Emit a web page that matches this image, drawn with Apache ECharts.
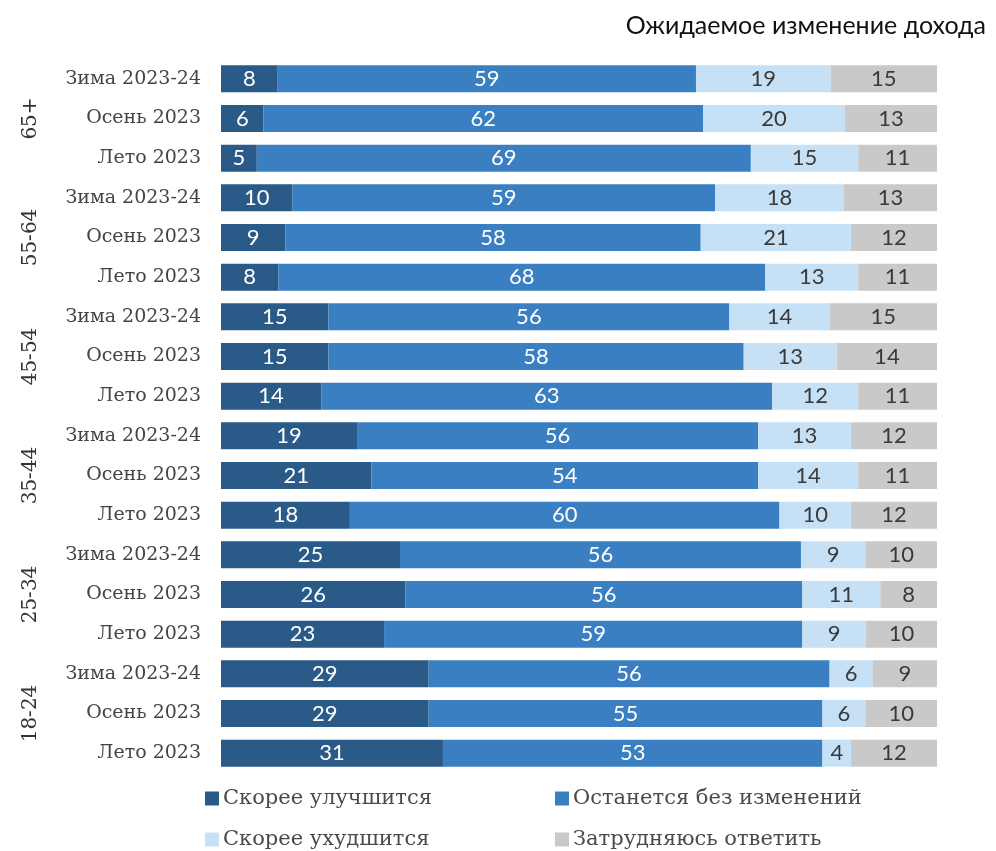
<!DOCTYPE html>
<html>
<head>
<meta charset="utf-8">
<script src="https://cdn.jsdelivr.net/npm/echarts@6/dist/echarts.min.js"></script>
<style>
  html, body { margin: 0; padding: 0; background: #fff; }
  #chart { width: 996px; height: 851px; }
</style>
</head>
<body>
<div id="chart"></div>
<script>
// Age groups, each with three survey waves (top to bottom)
const groups = ['65+', '55-64', '45-54', '35-44', '25-34', '18-24'];
const waves = ['Зима 2023-24', 'Осень 2023', 'Лето 2023'];

const seriesNames = ['Скорее улучшится', 'Останется без изменений', 'Скорее ухудшится', 'Затрудняюсь ответить'];

// Shares of respondents, %, one value per row (group x wave)
const improve = [8, 6, 5, 10, 9, 8, 15, 15, 14, 19, 21, 18, 25, 26, 23, 29, 29, 31];
const same    = [59, 62, 69, 59, 58, 68, 56, 58, 63, 56, 54, 60, 56, 56, 59, 56, 55, 53];
const worse   = [19, 20, 15, 18, 21, 13, 14, 13, 12, 13, 14, 10, 9, 11, 9, 6, 6, 4];
const unsure  = [15, 13, 11, 13, 12, 11, 15, 14, 11, 12, 11, 12, 10, 8, 10, 9, 10, 12];

const colors = ['#2a5a87', '#3a7fc1', '#c6e0f5', '#c9c9c9'];
const labelColors = ['#ffffff', '#ffffff', '#3a3a3a', '#3a3a3a'];

// Row keys are unique; the displayed label is the wave name only
const rows = [];
groups.forEach(g => waves.forEach(w => rows.push(g + '|' + w)));

const values = [improve, same, worse, unsure];
// Each row is drawn as a 100% bar, labels keep the reported values
const totals = rows.map((_, i) => values.reduce((s, arr) => s + arr[i], 0));

const sansFont = 'Lato, "Noto Sans", sans-serif';
const serifFont = '"DejaVu Serif", serif';

const series = values.map((arr, k) => ({
  name: seriesNames[k],
  type: 'bar',
  stack: 'total',
  barWidth: 27,
  itemStyle: { color: colors[k] },
  label: {
    show: true,
    position: 'inside',
    color: labelColors[k],
    fontFamily: sansFont,
    fontSize: 22,
    formatter: p => String(arr[p.dataIndex])
  },
  emphasis: { disabled: true },
  data: arr.map((v, i) => v / totals[i] * 100)
}));

const legendPos = [[205, 788], [555, 788], [205, 829], [555, 829]];
const legends = seriesNames.map((n, k) => ({
  data: [n],
  left: legendPos[k][0],
  top: legendPos[k][1],
  icon: 'rect',
  itemWidth: 14,
  itemHeight: 14,
  itemGap: 0,
  padding: 0,
  selectedMode: false,
  textStyle: { fontFamily: serifFont, fontSize: 21, color: '#4a4a4a', padding: [0, 0, 0, -1] }
}));

const chart = echarts.init(document.getElementById('chart'), null, { renderer: 'canvas' });
chart.setOption({
  animation: false,
  color: colors,
  title: {
    text: 'Ожидаемое изменение дохода',
    right: 5,
    top: 8,
    textStyle: { fontFamily: sansFont, fontSize: 25, fontWeight: 'normal', color: '#111' }
  },
  legend: legends,
  grid: { left: 221, right: 59, top: 59, bottom: 78, containLabel: false },
  xAxis: {
    type: 'value',
    min: 0,
    max: 100,
    show: false
  },
  yAxis: [
    {
      type: 'category',
      inverse: true,
      data: rows,
      axisLine: { show: false },
      axisTick: { show: false },
      axisLabel: {
        margin: 20,
        fontFamily: serifFont,
        fontSize: 19,
        color: '#444',
        formatter: v => v.split('|')[1]
      }
    },
    {
      type: 'category',
      inverse: true,
      position: 'left',
      offset: 180,
      data: groups,
      axisLine: { show: false },
      axisTick: { show: false },
      axisLabel: {
        rotate: 90,
        margin: 0,
        fontFamily: serifFont,
        fontSize: 20,
        color: '#333',
        align: 'center',
        verticalAlign: 'bottom'
      }
    }
  ],
  series: series
});
</script>
</body>
</html>
